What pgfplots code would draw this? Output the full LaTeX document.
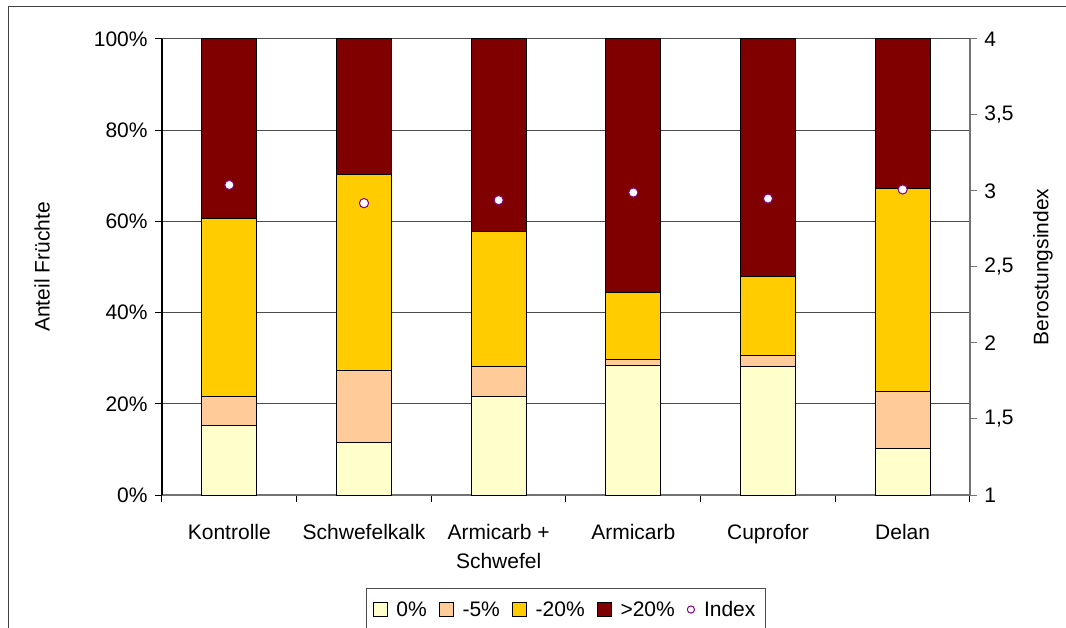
\documentclass[border=0pt]{standalone}
\usepackage{pgfplots}
\pgfplotsset{compat=1.18}
\usepackage{fontspec}
\setmainfont{Liberation Sans}
\definecolor{c0}{HTML}{FFFFCC}
\definecolor{c5}{HTML}{FFCC99}
\definecolor{c20}{HTML}{FFCC00}
\definecolor{cgt}{HTML}{800000}
\definecolor{cidx}{HTML}{800080}
\begin{document}
\fontsize{10.5}{12.6}\selectfont
\begin{tikzpicture}
\useasboundingbox (0,0) rectangle (533pt,313.5pt);
\draw[black!75, line width=0.5pt] (4pt,-20pt) -- (4pt,310pt) -- (560pt,310pt);
\begin{axis}[
  at={(81pt,66pt)}, anchor=south west, scale only axis,
  width=404pt, height=228pt,
  ybar stacked, bar width=27.5pt,
  xmin=-0.5, xmax=5.5, ymin=0, ymax=100,
  axis x line*=bottom, axis y line*=left,
  x axis line style={draw=black!55, line width=0.6pt},
  y axis line style={draw=black, line width=0.6pt},
  tick align=outside, major tick length=3.5pt,
  tick style={black, line width=0.5pt},
  xtick={-0.5,0.5,...,5.5}, xticklabels={,,,,,,},
  extra x ticks={0,1,2,3,4,5},
  extra x tick labels={Kontrolle,Schwefelkalk,{Armicarb +\\Schwefel},Armicarb,Cuprofor,Delan},
  extra x tick style={major tick length=0pt, xticklabel style={align=center, font=\fontsize{10.5}{14.5}\selectfont, yshift=-11pt}},
  ytick={0,20,...,100},
  yticklabel={\pgfmathprintnumber{\tick}\%},
  /pgf/number format/assume math mode=true,
  ymajorgrids, grid style={black!70, line width=0.5pt},
  ylabel={Anteil Früchte},
  ylabel style={at={(axis description cs:-0.1485,0.5)}, anchor=center},
  legend columns=5,
  legend style={at={(axis description cs:0.5,-0.205)}, anchor=north,
    draw=black!70, line width=0.5pt, inner xsep=3pt, inner ysep=3pt,
    nodes={text height=1.6ex, text depth=0.3ex},
    /tikz/every odd column/.style={column sep=2.5pt},
    /tikz/every even column/.style={column sep=4pt},
    font=\fontsize{10.5}{12.6}\selectfont},
  legend image code/.code={\draw[#1, draw=black, line width=0.4pt] (0pt,-3.5pt) rectangle (7pt,3.5pt);},
  clip=false,
]
\addplot[fill=c0, draw=black, line width=0.5pt] coordinates {(0,15.3) (1,11.6) (2,21.5) (3,28.4) (4,28.1) (5,10.1)};
\addplot[fill=c5, draw=black, line width=0.5pt] coordinates {(0,6.2) (1,15.7) (2,6.6) (3,1.3) (4,2.5) (5,12.6)};
\addplot[fill=c20, draw=black, line width=0.5pt] coordinates {(0,39.2) (1,42.9) (2,29.6) (3,14.7) (4,17.4) (5,44.6)};
\addplot[fill=cgt, draw=black, line width=0.5pt] coordinates {(0,39.3) (1,29.8) (2,42.3) (3,55.6) (4,52.0) (5,32.7)};
\addlegendentry{0\%}
\addlegendentry{-5\%}
\addlegendentry{-20\%}
\addlegendentry{>20\%}
\addlegendimage{legend image code/.code={\draw[cidx, fill=white, line width=0.5pt] (3.5pt,0pt) circle (1.8pt);}}
\addlegendentry{Index}
\end{axis}
\begin{axis}[
  at={(81pt,66pt)}, anchor=south west, scale only axis,
  width=404pt, height=228pt,
  xmin=-0.5, xmax=5.5, ymin=1, ymax=4,
  axis x line=none, axis y line*=right,
  y axis line style={draw=black!55, line width=0.6pt},
  tick align=outside, major tick length=3.5pt,
  tick style={black!55, line width=0.5pt},
  ytick={1,1.5,...,4},
  /pgf/number format/.cd, use comma, fixed, precision=1, assume math mode=true,
  /pgfplots/.cd,
  ylabel={Berostungsindex},
  ylabel style={at={(axis description cs:1.0903,0.5)}, anchor=center},
  clip=false,
]
\addplot[only marks, mark=*, mark size=2.3pt, mark options={draw=cidx, fill=white, line width=0.5pt}]
 coordinates {(0,3.04) (1,2.92) (2,2.94) (3,2.99) (4,2.95) (5,3.01)};
\end{axis}
\end{tikzpicture}
\end{document}
